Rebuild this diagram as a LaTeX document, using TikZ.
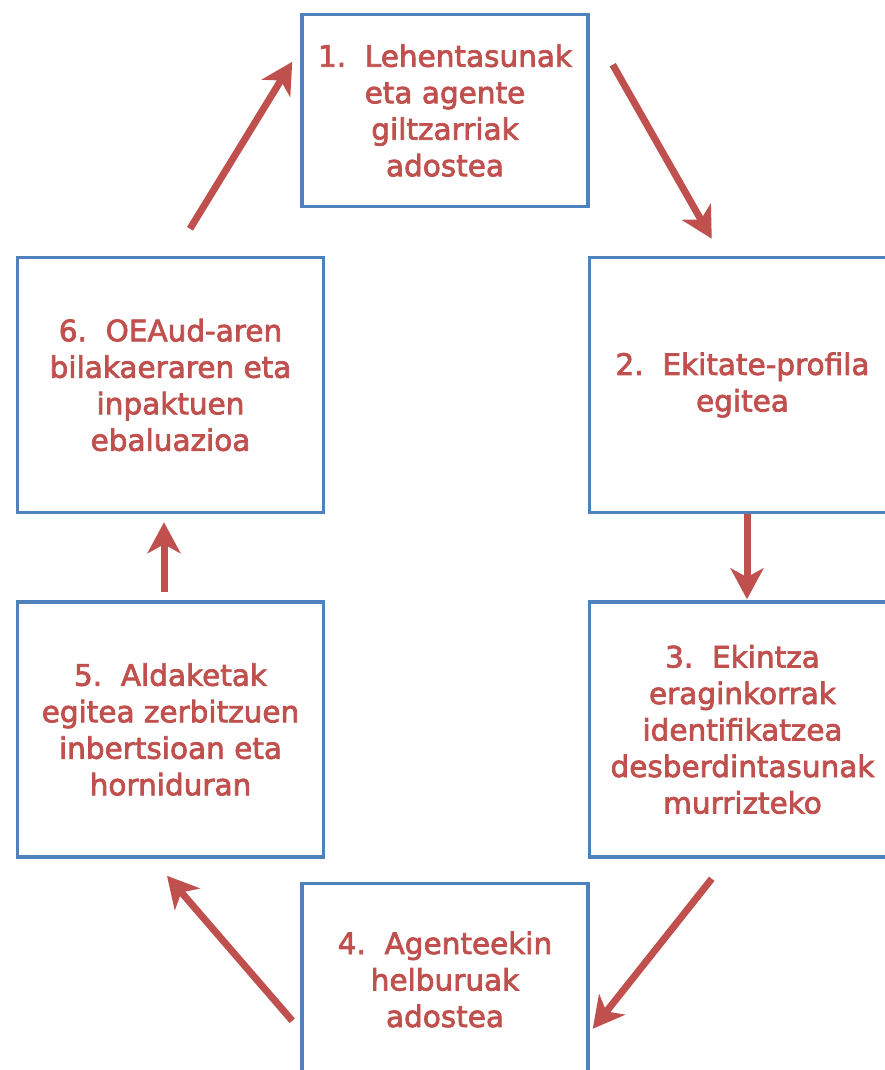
\documentclass[tikz,border=0pt]{standalone}
\usepackage{fontspec}
\setmainfont[FakeBold=2.5]{DejaVu Sans}
\usetikzlibrary{arrows.meta,calc}
\definecolor{boxblue}{HTML}{4F81BD}
\definecolor{txtred}{HTML}{C0504D}
\begin{document}
\begin{tikzpicture}[x=1pt,y=-1pt,
  stepbox/.style={draw=boxblue, line width=3.5pt, inner sep=0pt, align=center,
    text=txtred, font=\fontsize{29.5}{36.5}\selectfont},
  narrowbox/.style={stepbox, minimum width=286pt, minimum height=192pt},
  widebox/.style={stepbox, minimum width=306pt, minimum height=255pt},
  flow/.style={draw=txtred, line width=7pt,
    -{Stealth[length=31pt,width=33pt,inset=9pt]}}]
\useasboundingbox (0,0) rectangle (885,1070);
\node[narrowbox] (b1) at (445,110.5) {1.\ \ Lehentasunak\\eta agente\\giltzarriak\\adostea};
\node[widebox] (b2) at (742.5,385) {2.\ \ Ekitate-profila\\egitea};
\node[widebox] (b3) at (742.5,729.5) {3.\ \ Ekintza\\eraginkorrak\\identifikatzea\\desberdintasunak\\murrizteko};
\node[narrowbox] (b4) at (445,979.5) {4.\ \ Agenteekin\\helburuak\\adostea};
\node[widebox] (b5) at (170.5,729.5) {5.\ \ Aldaketak\\egitea zerbitzuen\\inbertsioan eta\\horniduran};
\node[widebox] (b6) at (170.5,385) {6.\ \ OEAud-aren\\bilakaeraren eta\\inpaktuen\\ebaluazioa};
\draw[flow] ($(b1.north east)+(23,52)$) -- ($(b2.north west)+(124,-17)$);
\draw[flow] ($(b2.south)+(4.5,0)$) -- ($(b3.north)+(4.5,-1)$);
\draw[flow] ($(b3.south west)+(124,20)$) -- ($(b4.north east)+(3,147)$);
\draw[flow] ($(b4.north west)+(-8,139)$) -- ($(b5.south)+(-3.5,17)$);
\draw[flow] ($(b5.north)+(-6.5,-8)$) -- ($(b6.south)+(-6.5,8)$);
\draw[flow] ($(b6.north)+(19.5,-27)$) -- ($(b1.north west)+(-8,49)$);
\end{tikzpicture}
\end{document}
